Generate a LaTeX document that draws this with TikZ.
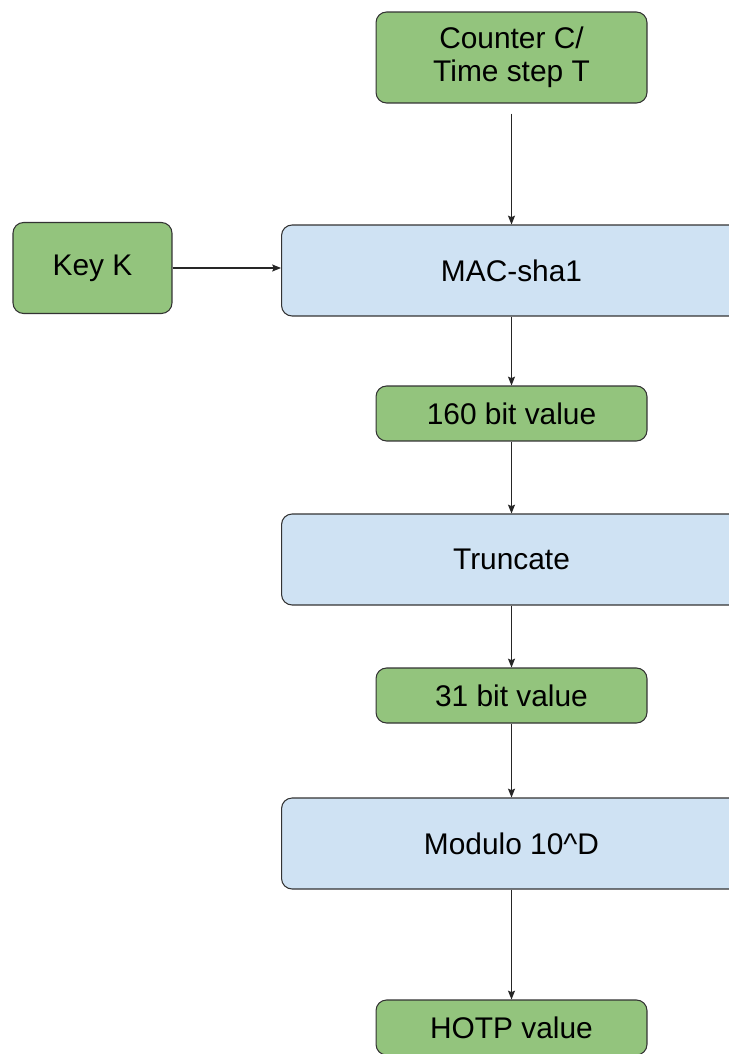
\documentclass[tikz,border=0pt]{standalone}
\usepackage{fontspec}
\setmainfont{Liberation Sans}
\usetikzlibrary{arrows.meta}
\definecolor{vert}{HTML}{93C47D}
\definecolor{bleu}{HTML}{CFE2F3}
\tikzstyle{boite} = [draw=black!80,line width=0.6pt,rounded corners=6pt,align=center,font=\fontsize{17}{18.5}\selectfont]
\tikzstyle{verte} = [boite,fill=vert,minimum width=5.42cm]
\tikzstyle{bleue} = [boite,fill=bleu,minimum width=9.2cm,minimum height=1.82cm]
\tikzstyle{fleche} = [->,>={Stealth[length=5pt,width=4pt,inset=0.8pt]},line width=0.6pt,black!85]

\begin{document}
\begin{tikzpicture}[x=0.02cm,y=-0.02cm]
	\useasboundingbox (0,0) rectangle (729,1054);
	\clip (0,0) rectangle (729,1054);

	\node[verte,minimum height=1.82cm] (CT) at (511.5,57.5) {Counter C/\\Time step T};
	\node[verte,minimum width=3.18cm,minimum height=1.82cm] (K) at (92.5,268) {Key K};
	\node[bleue] (MAC) at (511.5,270.5) {MAC-sha1};
	\node[verte,minimum height=1.1cm] (V160) at (511.5,413.5) {160 bit value};
	\node[bleue] (TR) at (511.5,559.5) {Truncate};
	\node[verte,minimum height=1.1cm] (V31) at (511.5,695.5) {31 bit value};
	\node[bleue] (MOD) at (511.5,843.5) {Modulo 10\^{}D};
	\node[verte,minimum height=1.1cm] (HOTP) at (511.5,1027.5) {HOTP value};

	\draw[fleche,shorten <=0.2cm] (CT) -- (MAC);
	\draw[fleche] (K) -- (K -| MAC.west);
	\draw[fleche] (MAC) -- (V160);
	\draw[fleche] (V160) -- (TR);
	\draw[fleche] (TR) -- (V31);
	\draw[fleche] (V31) -- (MOD);
	\draw[fleche] (MOD) -- (HOTP);
\end{tikzpicture}
\end{document}
